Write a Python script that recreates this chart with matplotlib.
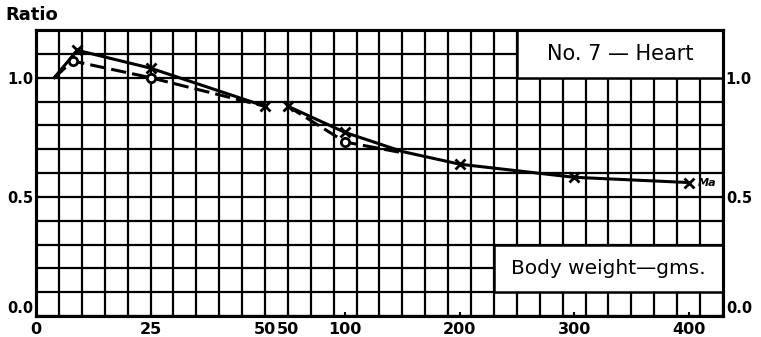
#!/usr/bin/python3
# coding: utf-8

'''
Heart weight ratio against body weight (No. 7), two scales on one axis
'''

import matplotlib
matplotlib.use('Agg')
import matplotlib.pyplot as plt
from matplotlib.patches import Rectangle

# body weight in gms, first scale (0-50) and second scale (50-400)
weight_low = [4, 9, 25, 50]
ratio_low = [1.0, 1.115, 1.04, 0.88]
weight_low_b = [4, 8, 25, 50]
ratio_low_b = [1.0, 1.07, 1.0, 0.88]

weight_high = [50, 100, 150, 200, 300, 400]
ratio_high = [0.88, 0.77, 0.69, 0.637, 0.582, 0.56]
weight_high_b = [50, 100, 150]
ratio_high_b = [0.88, 0.73, 0.685]

low_ticks = [0, 25, 50]
high_ticks = [50, 100, 200, 300, 400]
y_ticks = [0.0, 0.5, 1.0]

FONT = dict(family='DejaVu Sans', weight='bold')


def main():
    fig = plt.figure(figsize=(7.61, 3.37), dpi=100)
    ax = fig.add_axes([36 / 761, 21 / 337, 687 / 761, 286 / 337])
    # first scale: 5 gms per square, second scale: 20 gms per square
    ax.set_xlim(0, 150)
    ax.set_ylim(0, 1.2)
    ax2 = ax.twiny()
    ax2.set_xlim(-170, 430)

    ax.set_xticks(low_ticks)
    ax.set_xticklabels([str(t) for t in low_ticks], fontsize=11.5, **FONT)
    ax.set_yticks(y_ticks)
    ax.set_yticklabels(['%.1f' % t for t in y_ticks], fontsize=10.5, **FONT)
    ax.tick_params(which='major', direction='in', length=3, width=1.5, pad=2,
                   labelright=True, right=True)
    ax.tick_params(axis='x', pad=4)
    # lift the 0.0 labels clear of the x labels
    bottom_tick = ax.yaxis.get_major_ticks()[0]
    bottom_tick.label1.set_va('bottom')
    bottom_tick.label2.set_va('bottom')

    ax.set_xticks(range(0, 151, 5), minor=True)
    ax.set_yticks([i / 10 for i in range(13)], minor=True)
    ax.xaxis.remove_overlapping_locs = False
    ax.yaxis.remove_overlapping_locs = False
    ax.grid(which='minor', color='black', lw=1.6)
    ax.set_axisbelow(True)
    ax.tick_params(which='minor', length=0)

    ax2.xaxis.set_ticks_position('bottom')
    ax2.xaxis.set_label_position('bottom')
    ax2.set_xticks(high_ticks)
    ax2.set_xticklabels([str(t) for t in high_ticks], fontsize=11.5, **FONT)
    ax2.tick_params(direction='in', length=3, width=1.5, pad=4)

    for a in (ax, ax2):
        for s in a.spines.values():
            s.set_linewidth(2.2)

    # label boxes laid over the grid
    ax.add_patch(Rectangle((105, 1.0), 45, 0.2, facecolor='white',
                           edgecolor='black', lw=1.8, zorder=1))
    ax.add_patch(Rectangle((100, 0.1), 50, 0.2, facecolor='white',
                           edgecolor='black', lw=1.8, zorder=1))
    ax.text(127.5, 1.1, 'No. 7 — Heart', ha='center', va='center',
            fontsize=15, family='DejaVu Sans', zorder=2)
    ax.text(125, 0.2, 'Body weight—gms.', ha='center', va='center',
            fontsize=14.5, family='DejaVu Sans', zorder=2)

    ax.plot(weight_low, ratio_low, color='black', lw=2.2, marker='x',
            ms=7, mew=2, markevery=[1, 2, 3], zorder=3)
    ax.plot(weight_low_b, ratio_low_b, color='black', lw=2.2, ls=(0, (5, 2)),
            marker='o', ms=6, mew=2, mfc='white', markevery=[1, 2], zorder=3)
    ax2.plot(weight_high, ratio_high, color='black', lw=2.2, marker='x',
             ms=7, mew=2, markevery=[0, 1, 3, 4, 5], zorder=3)
    ax2.plot(weight_high_b, ratio_high_b, color='black', lw=2.2, ls=(0, (5, 2)),
             marker='o', ms=6, mew=2, mfc='white', markevery=[1], zorder=3)
    ax2.text(weight_high[-1] + 8, ratio_high[-1], 'Ma', ha='left', va='center',
             fontsize=8, fontstyle='italic', **FONT)

    fig.text(5 / 761, 1 - 15 / 337, 'Ratio', ha='left', va='center',
             fontsize=13, **FONT)

    fig.savefig('out.png', dpi=100)
    plt.close(fig)


if __name__ == '__main__':
    main()
